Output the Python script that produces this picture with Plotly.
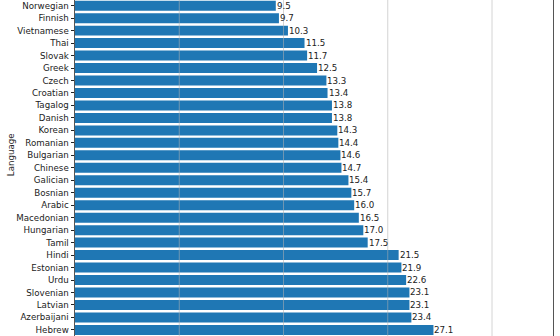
import plotly.graph_objects as go
import math

languages = ["Norwegian", "Finnish", "Vietnamese", "Thai", "Slovak", "Greek", "Czech",
             "Croatian", "Tagalog", "Danish", "Korean", "Romanian", "Bulgarian", "Chinese",
             "Galician", "Bosnian", "Arabic", "Macedonian", "Hungarian", "Tamil", "Hindi",
             "Estonian", "Urdu", "Slovenian", "Latvian", "Azerbaijani", "Hebrew"]
values = [9.5, 9.7, 10.3, 11.5, 11.7, 12.5, 13.3, 13.4, 13.8, 13.8, 14.3, 14.4, 14.6, 14.7,
          15.4, 15.7, 16.0, 16.5, 17.0, 17.5, 21.5, 21.9, 22.6, 23.1, 23.1, 23.4, 27.1]
grid_values = [5, 10, 20, 40]
x_limits = [2.5, 60]

W, H = 560, 336
L, R = 75, 7
FONT = "DejaVu Sans"

fig = go.Figure()
fig.add_trace(go.Bar(
    y=languages, x=values, orientation="h",
    marker=dict(color="#1f77b4", line=dict(width=0)),
    showlegend=False,
))

for lang, v in zip(languages, values):
    fig.add_annotation(x=math.log10(v), y=lang, xref="x", yref="y", text=f"{v:.1f}",
                       showarrow=False, xanchor="left", yanchor="middle",
                       borderpad=0, xshift=0,
                       font=dict(family=FONT, size=8.7, color="#222"))

for g in grid_values:
    fig.add_shape(type="line", xref="x", yref="paper", x0=g, x1=g, y0=0, y1=1,
                  line=dict(color="rgba(176,176,176,0.55)", width=1), layer="above")

fig.update_layout(
    width=W, height=H,
    margin=dict(l=L, r=R, t=0, b=0),
    paper_bgcolor="white", plot_bgcolor="white",
    bargap=0.2,
    font=dict(family=FONT, size=8.7, color="#222"),
    xaxis=dict(type="log", range=[math.log10(x_limits[0]), math.log10(x_limits[1])],
               showgrid=False, showticklabels=False, ticks="", zeroline=False,
               showline=False),
    yaxis=dict(type="category", categoryorder="array", categoryarray=languages,
               range=[26.49, -0.457], ticks="outside", ticklen=3.5, tickwidth=0.8,
               tickcolor="#222", showgrid=False, showline=True, mirror=True,
               linecolor="#555", linewidth=1,
               tickfont=dict(family=FONT, size=8.7, color="#222")),
)

fig.add_annotation(text="Language", xref="paper", yref="paper",
                   x=(10.7 - L) / (W - L - R), y=1 - 154.5 / H, textangle=-90,
                   showarrow=False, font=dict(family=FONT, size=8.7, color="#222"),
                   xanchor="center", yanchor="middle")

fig.write_html("out.html")
